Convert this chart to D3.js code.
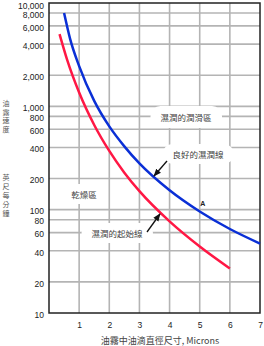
<!DOCTYPE html>
<html>
<head>
<meta charset="utf-8">
<script src="https://cdn.jsdelivr.net/npm/d3@7"></script>
<style>
  body { margin: 0; background: #fff; }
  text { font-family: "Liberation Sans", Arial, sans-serif; }
  .cjk { font-family: "Noto Sans CJK TC", "Noto Sans CJK SC", sans-serif; }
</style>
</head>
<body>
<div id="chart"></div>
<script>
/* global d3:false */
(function() {

// data
var xTicks = [1, 2, 3, 4, 5, 6, 7];
var yTicks = [10, 20, 40, 60, 80, 100, 200, 400, 600, 800, 1000, 2000, 4000, 6000, 8000, 10000];
var wetLine = [[0.5, 8000], [0.7, 4500], [1, 2450], [1.5, 1130], [2, 640], [2.5, 410],
               [3, 280], [4, 154], [5, 96], [6, 65], [7, 47]];
var startLine = [[0.35, 5000], [0.6, 2830], [1, 1360], [1.5, 660], [2, 370], [2.5, 228],
                 [3, 151], [4, 77], [5, 44], [6, 27]];
var yTitleTop = "油霧速度";
var yTitleBottom = "英尺每分鐘";
var xTitle = "油霧中油滴直徑尺寸, Microns";

var W = 264, H = 346;
var left = 49, right = 260, top = 3, bottom = 313;

var svg = d3.select("#chart").append("svg")
  .attr("width", W)
  .attr("height", H);

var x = d3.scaleLinear().domain([0, 7]).range([left, right]);
var y = d3.scaleLog().domain([10, 10000]).range([bottom, top]);

/* grid */
svg.append("g").selectAll("line.h")
  .data(yTicks.slice(1, -1))
  .enter().append("line")
  .attr("x1", left).attr("x2", right)
  .attr("y1", function(d) { return y(d); })
  .attr("y2", function(d) { return y(d); })
  .style("stroke", "#b4b4b4")
  .style("stroke-width", 1.6);
svg.append("g").selectAll("line.v")
  .data(xTicks.slice(0, -1))
  .enter().append("line")
  .attr("y1", top).attr("y2", bottom)
  .attr("x1", function(d) { return x(d); })
  .attr("x2", function(d) { return x(d); })
  .style("stroke", "#b4b4b4")
  .style("stroke-width", 1.6);

/* frame */
svg.append("rect")
  .attr("x", left).attr("y", top)
  .attr("width", right - left).attr("height", bottom - top)
  .style("fill", "none")
  .style("stroke", "#222")
  .style("stroke-width", 1.5);

/* axes */
var yAxis = svg.append("g")
  .attr("transform", "translate(" + left + ",0)")
  .call(d3.axisLeft(y).tickValues(yTicks).tickFormat(d3.format(",")).tickSize(0).tickPadding(5));
var xAxis = svg.append("g")
  .attr("transform", "translate(0," + bottom + ")")
  .call(d3.axisBottom(x).tickValues(xTicks).tickFormat(d3.format("d")).tickSize(0).tickPadding(9));
[yAxis, xAxis].forEach(function(a) {
  a.select(".domain").remove();
  a.selectAll("text")
    .style("font-size", "8.5px")
    .style("fill", "#222");
});
// labels sit a little under their grid lines; top one kept inside the picture
yAxis.selectAll(".tick text").attr("y", function(d) { return d === 10000 ? 3 : 1.5; });

/* curves */
var line = d3.line()
  .x(function(d) { return x(d[0]); })
  .y(function(d) { return y(d[1]); })
  .curve(d3.curveMonotoneX);
svg.append("path").datum(startLine)
  .attr("d", line)
  .style("fill", "none")
  .style("stroke", "#ff1744")
  .style("stroke-width", 2.5);
svg.append("path").datum(wetLine)
  .attr("d", line)
  .style("fill", "none")
  .style("stroke", "#0a2fd6")
  .style("stroke-width", 2.5);

/* arrow marker */
svg.append("defs").append("marker")
  .attr("id", "arr")
  .attr("viewBox", "0 0 10 10")
  .attr("refX", 9).attr("refY", 5)
  .attr("markerWidth", 6).attr("markerHeight", 6)
  .attr("orient", "auto")
  .append("path")
  .attr("d", "M0,1 L10,5 L0,9 z")
  .style("fill", "#111");

/* labels with white boxes */
function boxLabel(txt, cx, cy, padX, padY) {
  var g = svg.append("g");
  var t = g.append("text")
    .attr("class", "cjk")
    .attr("x", cx).attr("y", cy)
    .attr("text-anchor", "middle")
    .attr("dy", "0.35em")
    .style("font-size", "8.5px")
    .style("fill", "#444")
    .text(txt);
  var bb = t.node().getBBox();
  g.insert("rect", "text")
    .attr("x", bb.x - padX).attr("y", bb.y - padY)
    .attr("width", bb.width + 2 * padX).attr("height", bb.height + 2 * padY)
    .attr("rx", 10)
    .style("fill", "#fff");
}
boxLabel("濕潤的潤滑區", 186, 118, 10, 5);
boxLabel("良好的濕潤線", 198, 155, 10, 4);
boxLabel("乾燥區", 84, 195, 8, 4);
boxLabel("濕潤的起始線", 117, 234, 10, 4);

svg.append("line")
  .attr("x1", 167).attr("y1", 161)
  .attr("x2", 154).attr("y2", 176)
  .attr("marker-end", "url(#arr)")
  .style("stroke", "#111").style("stroke-width", 1.3);
svg.append("line")
  .attr("x1", 147).attr("y1", 232)
  .attr("x2", 160).attr("y2", 214)
  .attr("marker-end", "url(#arr)")
  .style("stroke", "#111").style("stroke-width", 1.3);

svg.append("text")
  .attr("x", x(5.1)).attr("y", y(100) - 4)
  .attr("text-anchor", "middle")
  .style("font-size", "7px")
  .style("font-weight", "bold")
  .style("fill", "#222")
  .text("A");

/* axis titles */
function vertical(str, x0, y0, step) {
  svg.append("g").selectAll("text")
    .data(str.split(""))
    .enter().append("text")
    .attr("class", "cjk")
    .attr("x", x0)
    .attr("y", function(d, i) { return y0 + i * step; })
    .attr("text-anchor", "middle")
    .style("font-size", "7px")
    .style("fill", "#555")
    .text(function(d) { return d; });
}
vertical(yTitleTop, 6, 106, 8.5);
vertical(yTitleBottom, 6, 180, 9);

svg.append("text")
  .attr("class", "cjk")
  .attr("x", 160).attr("y", 344)
  .attr("text-anchor", "middle")
  .style("font-size", "9px")
  .style("fill", "#444")
  .text(xTitle);

})();
</script>
</body>
</html>
